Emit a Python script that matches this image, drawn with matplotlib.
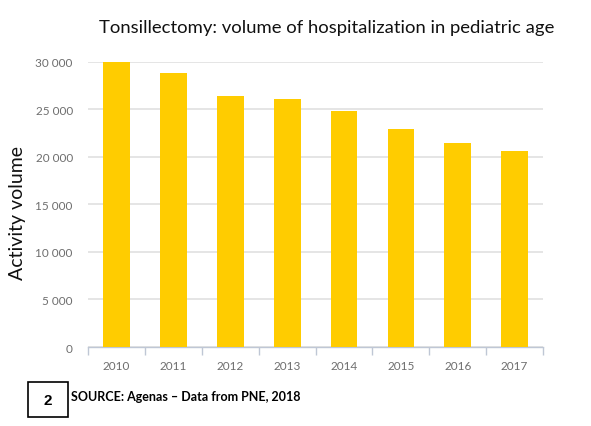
import matplotlib
matplotlib.use("Agg")
import matplotlib.pyplot as plt
import numpy as np
from matplotlib.patches import Rectangle

years = ["2010", "2011", "2012", "2013", "2014", "2015", "2016", "2017"]
volume = [30000, 28850, 26450, 26100, 24870, 22950, 21500, 20600]
yticks = [0, 5000, 10000, 15000, 20000, 25000, 30000]
ylabels = ["0", "5 000", "10 000", "15 000", "20 000", "25 000", "30 000"]

narrow = ["Lato", "DejaVu Sans"]
tickfont = ["Lato", "DejaVu Sans"]

fig = plt.figure(figsize=(5.91, 4.27), dpi=100)
ax = fig.add_axes([0.149, 0.185, 0.770, 0.668])

x = np.arange(len(years))
ax.bar(x, volume, width=0.47, color="#FFCC00", zorder=3)

ax.set_xlim(-0.5, len(years) - 0.5)
ax.set_ylim(0, 30000)
ax.set_yticks(yticks)
ax.set_yticklabels(ylabels)
ax.yaxis.grid(True, color="#E0E0E0", linewidth=1.2, zorder=0)
ax.tick_params(axis="y", length=0, pad=11, labelsize=8.5, labelcolor="#6E6E6E")

# category labels centred, boundary ticks below the axis
ax.set_xticks(x)
ax.set_xticklabels(years)
ax.tick_params(axis="x", length=0, pad=9, labelsize=8.5, labelcolor="#6E6E6E")
ax.set_xticks(np.arange(len(years) + 1) - 0.5, minor=True)
ax.tick_params(axis="x", which="minor", length=6, color="#BFC7D5", width=1)

for side in ["top", "right", "left"]:
    ax.spines[side].set_visible(False)
ax.spines["bottom"].set_color("#BFC7D5")
ax.spines["bottom"].set_linewidth(1)

for lab in ax.get_xticklabels() + ax.get_yticklabels():
    lab.set_family(tickfont)

fig.text(0.552, 0.934, "Tonsillectomy: volume of hospitalization in pediatric age",
         ha="center", va="center", fontsize=13.3, family=narrow, color="#111111")

fig.text(0.029, 0.5, "Activity volume", rotation=90, ha="center", va="center",
         fontsize=14, family=tickfont, color="#111111")

# slide number box and source line
fig.patches.append(Rectangle((28 / 591, 1 - 418 / 427), 40 / 591, 35 / 427,
                             transform=fig.transFigure, fill=False,
                             edgecolor="black", linewidth=1.2))
fig.text(48 / 591, 1 - 401 / 427, "2", ha="center", va="center",
         fontsize=11, fontweight="bold", family=["Liberation Sans", "DejaVu Sans"])
fig.text(71 / 591, 1 - 397 / 427, "SOURCE: Agenas \u2013 Data from PNE, 2018",
         ha="left", va="center", fontsize=9, fontweight="bold", family=narrow)

fig.savefig("out.png", dpi=100)
